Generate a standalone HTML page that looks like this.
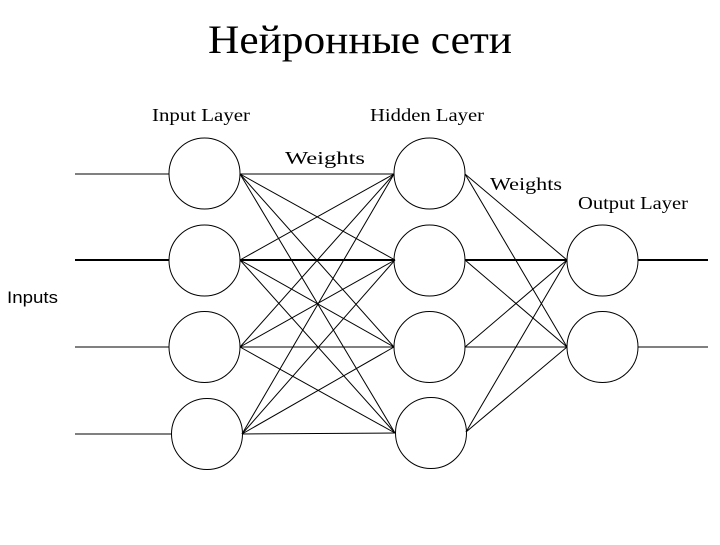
<!DOCTYPE html>
<html><head><meta charset="utf-8"><style>
html,body{margin:0;padding:0;background:#fff;}
</style></head><body>
<svg width="720" height="540" viewBox="0 0 720 540" xmlns="http://www.w3.org/2000/svg" font-family="Liberation Serif, serif">
<text x="208" y="53" font-size="40" textLength="304" lengthAdjust="spacingAndGlyphs">Нейронные сети</text>
<text x="152" y="121" font-size="18" textLength="98" lengthAdjust="spacingAndGlyphs">Input Layer</text>
<text x="370" y="121" font-size="18" textLength="114" lengthAdjust="spacingAndGlyphs">Hidden Layer</text>
<text x="285" y="164" font-size="18" textLength="80" lengthAdjust="spacingAndGlyphs">Weights</text>
<text x="490" y="190" font-size="18" textLength="72" lengthAdjust="spacingAndGlyphs">Weights</text>
<text x="578" y="209" font-size="18" textLength="110" lengthAdjust="spacingAndGlyphs">Output Layer</text>
<text x="7" y="303" font-size="17" font-family="Liberation Sans, sans-serif" textLength="51" lengthAdjust="spacingAndGlyphs">Inputs</text>
<g stroke="#000" fill="none" stroke-width="1">
<line x1="75" y1="174" x2="169" y2="174"/>
<line x1="75" y1="260" x2="169" y2="260" stroke-width="2"/>
<line x1="75" y1="347" x2="169" y2="347"/>
<line x1="75" y1="434" x2="172" y2="434"/>
<circle cx="204.5" cy="173.5" r="35.5"/>
<circle cx="204.5" cy="260.5" r="35.5"/>
<circle cx="204.5" cy="347" r="35.5"/>
<circle cx="207" cy="434" r="35.5"/>
<circle cx="429.5" cy="173.5" r="35.5"/>
<circle cx="429.5" cy="260.5" r="35.5"/>
<circle cx="429.5" cy="347" r="35.5"/>
<circle cx="431" cy="433" r="35.5"/>
<circle cx="602.5" cy="260.5" r="35.5"/>
<circle cx="602.5" cy="347" r="35.5"/>
<line x1="638" y1="260" x2="708" y2="260" stroke-width="2"/>
<line x1="638" y1="347" x2="708" y2="347"/>
<g>
<line x1="240" y1="174" x2="394" y2="174"/><line x1="240" y1="174" x2="395" y2="260"/><line x1="240" y1="174" x2="394" y2="347"/><line x1="240" y1="174" x2="395" y2="433"/>
<line x1="240" y1="260" x2="394" y2="174"/><line x1="240" y1="260" x2="395" y2="260" stroke-width="2"/><line x1="240" y1="260" x2="394" y2="347"/><line x1="240" y1="260" x2="395" y2="433"/>
<line x1="240" y1="347" x2="394" y2="174"/><line x1="240" y1="347" x2="395" y2="260"/><line x1="240" y1="347" x2="394" y2="347"/><line x1="240" y1="347" x2="395" y2="433"/>
<line x1="242" y1="434" x2="394" y2="174"/><line x1="242" y1="434" x2="395" y2="260"/><line x1="242" y1="434" x2="394" y2="347"/><line x1="242" y1="434" x2="395" y2="433"/>
</g>
<g>
<line x1="465" y1="174" x2="567" y2="260"/><line x1="465" y1="174" x2="567" y2="347"/>
<line x1="465" y1="260" x2="567" y2="260" stroke-width="2"/><line x1="465" y1="260" x2="567" y2="347"/>
<line x1="465" y1="347" x2="567" y2="260"/><line x1="465" y1="347" x2="567" y2="347"/>
<line x1="466" y1="432" x2="567" y2="260"/><line x1="466" y1="432" x2="567" y2="347"/>
</g>
</g>
</svg>
</body></html>
